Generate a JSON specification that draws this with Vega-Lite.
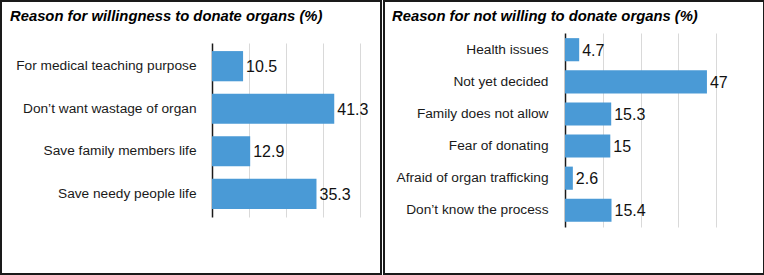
{
  "$schema": "https://vega.github.io/schema/vega-lite/v6.json",
  "padding": 0,
  "spacing": 1,
  "background": "white",
  "datasets": {
    "willing": [
      {"reason": "For medical teaching purpose", "pct": 10.5},
      {"reason": "Don’t want wastage of organ", "pct": 41.3},
      {"reason": "Save family members life", "pct": 12.9},
      {"reason": "Save needy people life", "pct": 35.3}
    ],
    "notwilling": [
      {"reason": "Health issues", "pct": 4.7},
      {"reason": "Not yet decided", "pct": 47},
      {"reason": "Family does not allow", "pct": 15.3},
      {"reason": "Fear of donating", "pct": 15},
      {"reason": "Afraid of organ trafficking", "pct": 2.6},
      {"reason": "Don’t know the process", "pct": 15.4}
    ]
  },
  "hconcat": [
    {
      "width": 380,
      "height": 273,
      "data": {"name": "willing"},
      "title": {"text": "Reason for willingness to donate organs (%)", "anchor": "start", "frame": "group", "dx": 9, "offset": -35, "baseline": "alphabetic"},
      "encoding": {
        "y": {"field": "reason", "type": "nominal", "sort": null,
          "scale": {"range": [42, 216], "paddingInner": 0.29, "paddingOuter": 0.19},
          "axis": {"title": null, "offset": -211, "labelPadding": 16, "ticks": false, "tickSize": 0}},
        "x": {"field": "pct", "type": "quantitative",
          "scale": {"domain": [0, 50], "range": [211, 359], "nice": false},
          "axis": {"orient": "top", "title": null, "values": [12.5, 25, 37.5, 50], "grid": true, "labels": false, "ticks": false, "domain": false}}
      },
      "layer": [
        {"mark": {"type": "bar", "color": "#4a9ad6"}},
        {"mark": {"type": "text", "align": "left", "baseline": "middle", "dx": 3, "dy": 1, "fontSize": 16, "font": "Liberation Sans", "color": "#111"},
         "encoding": {"text": {"field": "pct", "type": "quantitative"}}}
      ]
    },
    {
      "width": 380,
      "height": 273,
      "data": {"name": "notwilling"},
      "title": {"text": "Reason for not willing to donate organs (%)", "anchor": "start", "frame": "group", "dx": 8, "offset": -35, "baseline": "alphabetic"},
      "encoding": {
        "y": {"field": "reason", "type": "nominal", "sort": null,
          "scale": {"range": [32, 226], "paddingInner": 0.28, "paddingOuter": 0.16},
          "axis": {"title": null, "offset": -181, "labelPadding": 17, "ticks": false, "tickSize": 0}},
        "x": {"field": "pct", "type": "quantitative",
          "scale": {"domain": [0, 50], "range": [181, 332], "nice": false},
          "axis": {"orient": "top", "title": null, "values": [12.5, 25, 37.5, 50], "grid": true, "labels": false, "ticks": false, "domain": false}}
      },
      "layer": [
        {"mark": {"type": "bar", "color": "#4a9ad6"}},
        {"mark": {"type": "text", "align": "left", "baseline": "middle", "dx": 3, "dy": 1, "fontSize": 16, "font": "Liberation Sans", "color": "#111"},
         "encoding": {"text": {"field": "pct", "type": "quantitative"}}}
      ]
    }
  ],
  "config": {
    "view": {"stroke": "#1a1a1a", "strokeWidth": 2},
    "title": {"font": "Liberation Sans", "fontSize": 14.8, "fontStyle": "italic", "fontWeight": "bold", "color": "#000"},
    "axis": {"labelFont": "Liberation Sans", "labelFontSize": 13.7, "labelColor": "#1a1a1a", "domainColor": "#1a1a1a", "domainWidth": 1.5, "gridColor": "#d9d9d9", "gridWidth": 1, "labelLimit": 300}
  }
}
